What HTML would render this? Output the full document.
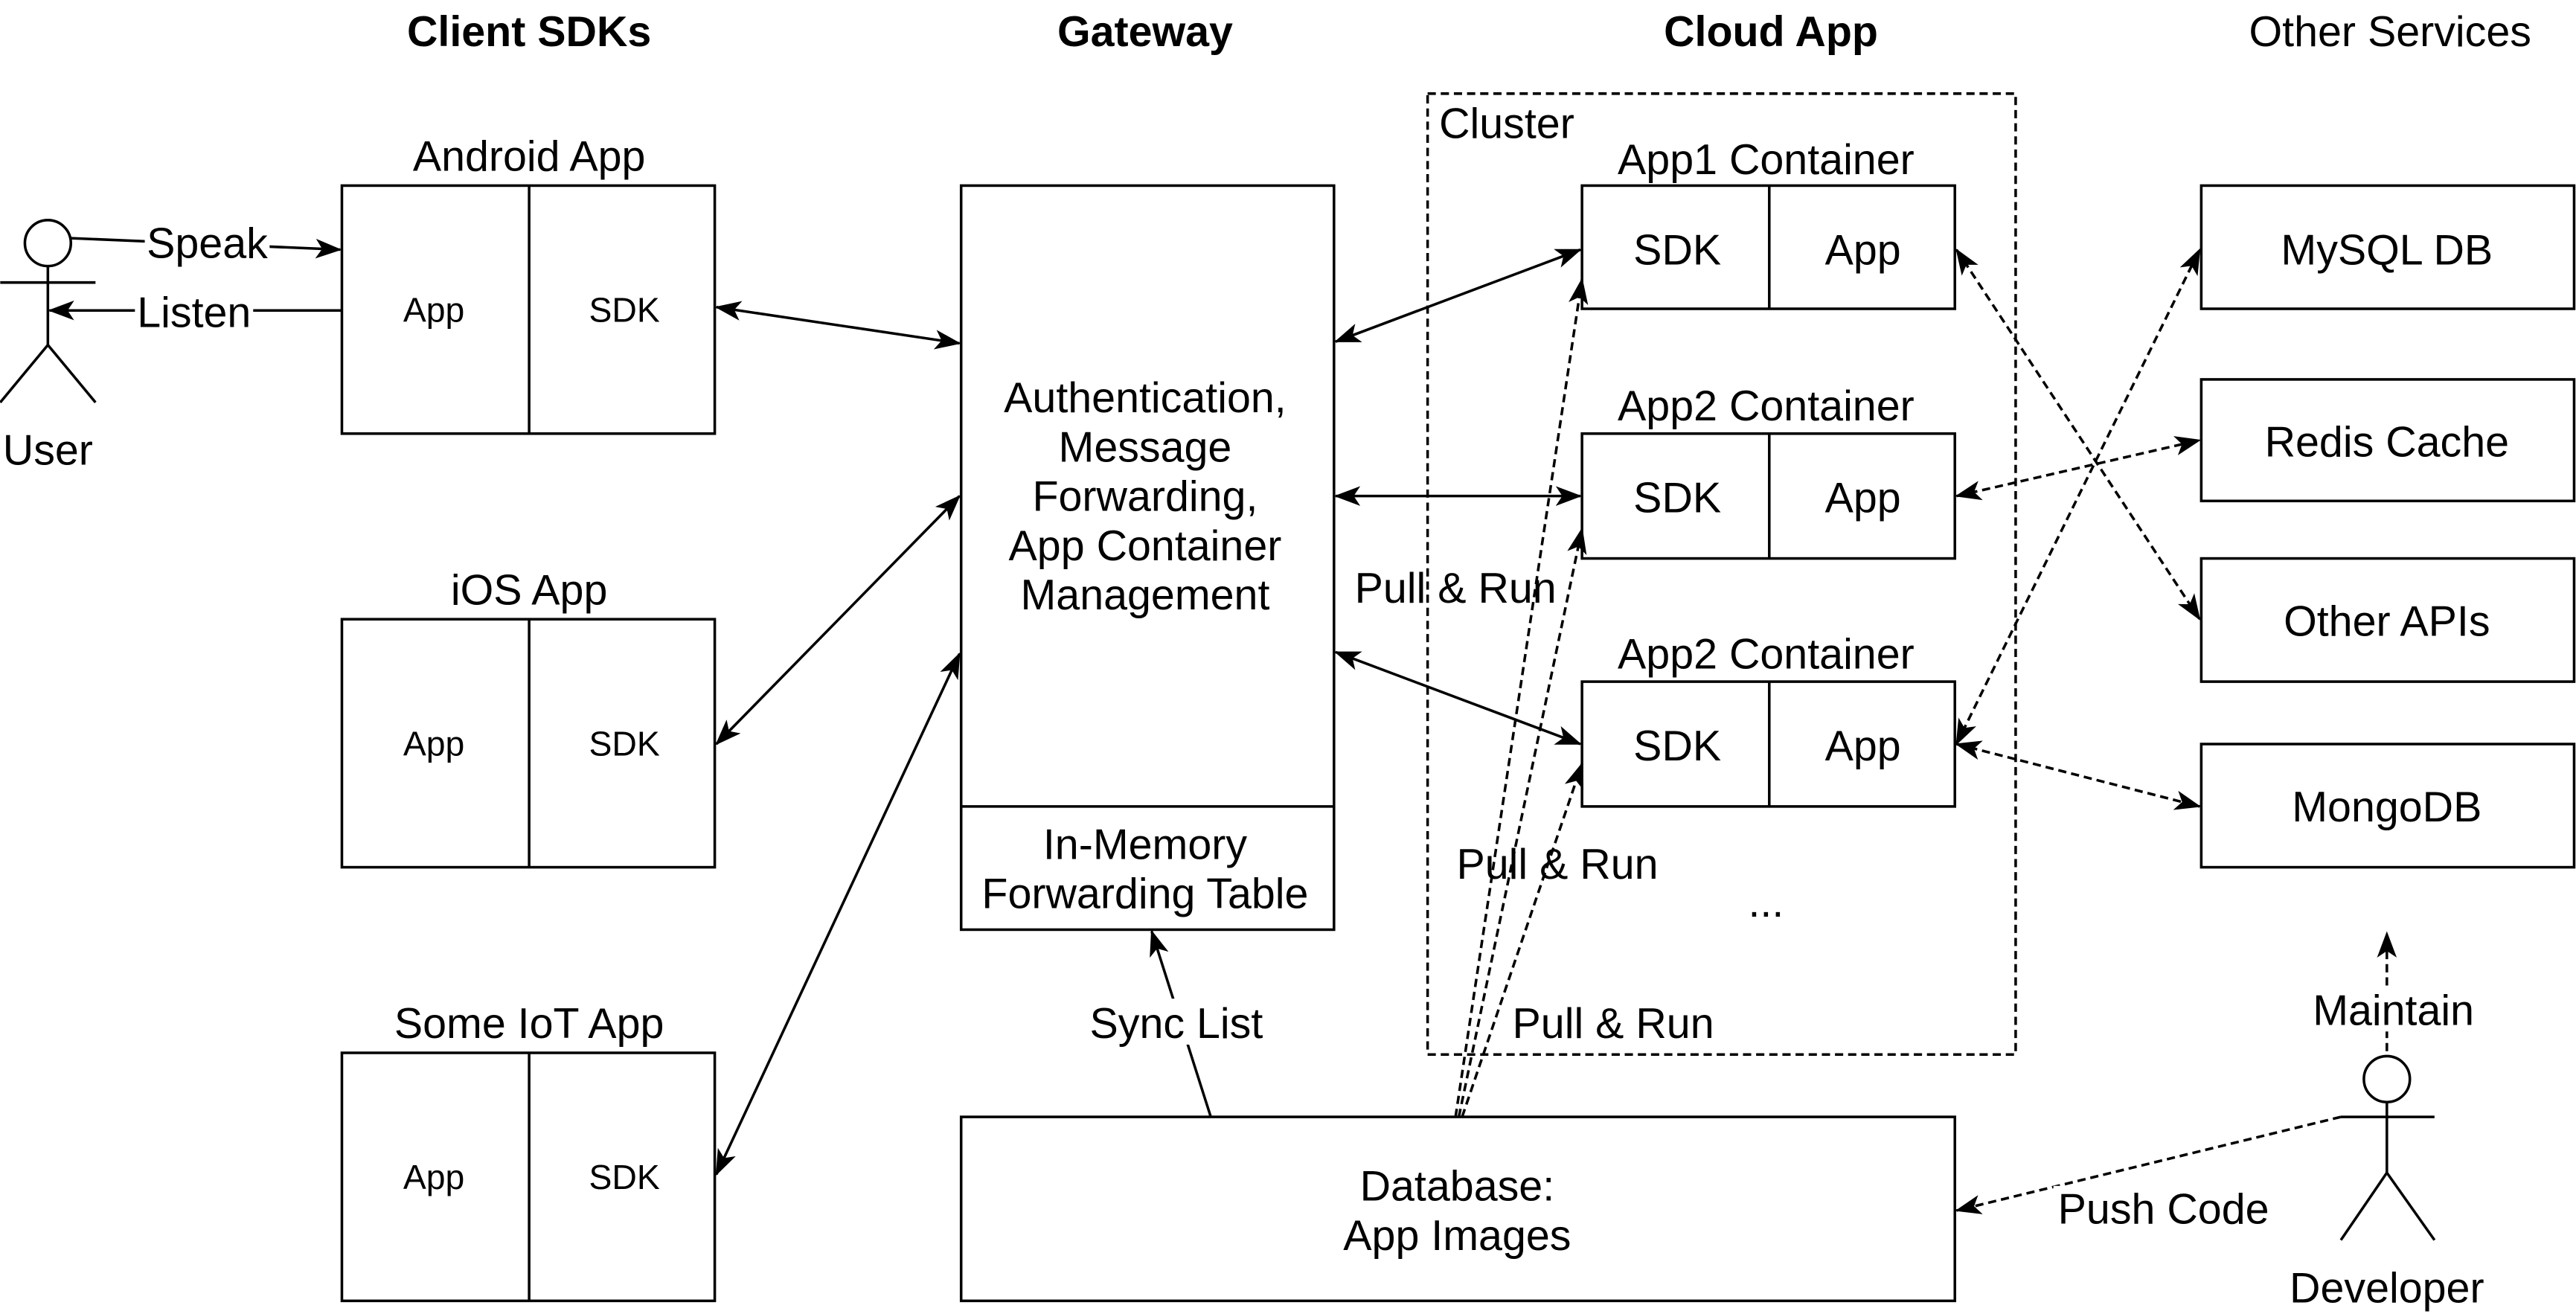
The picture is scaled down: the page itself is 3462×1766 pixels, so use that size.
<!DOCTYPE html>
<html><head><meta charset="utf-8"><style>
html,body{margin:0;padding:0;background:#fff;}
svg{display:block;}
text{font-family:"Liberation Sans",sans-serif;fill:#000;}
</style></head><body>
<svg width="3462" height="1766" viewBox="0 0 1568 800" xmlns="http://www.w3.org/2000/svg">
<defs>
<marker id="a" viewBox="0 0 16 12" refX="15" refY="6" markerWidth="16" markerHeight="12" markerUnits="userSpaceOnUse" orient="auto-start-reverse">
<path d="M0,0 L16,6 L0,12 L4,6 Z" fill="#000"/>
</marker>
</defs>
<rect width="1568" height="800" fill="#fff"/>
<g font-size="26" text-anchor="middle">
<text x="322" y="28" font-weight="bold">Client SDKs</text>
<text x="697" y="28" font-weight="bold">Gateway</text>
<text x="1078" y="28" font-weight="bold">Cloud App</text>
<text x="1455" y="28">Other Services</text>
</g>
<g stroke="#000" stroke-width="1.6" fill="none">
<circle cx="29" cy="148" r="14"/>
<line x1="29" y1="162" x2="29" y2="210"/>
<line x1="0" y1="172" x2="58" y2="172"/>
<line x1="29" y1="210" x2="0" y2="245"/><line x1="29" y1="210" x2="58" y2="245"/>
<circle cx="1453" cy="657" r="14"/>
<line x1="1453" y1="671" x2="1453" y2="714"/>
<line x1="1425" y1="680" x2="1482" y2="680"/>
<line x1="1453" y1="714" x2="1425" y2="755"/><line x1="1453" y1="714" x2="1482" y2="755"/>
<rect x="208" y="113" width="227" height="151"/><line x1="322" y1="113" x2="322" y2="264"/>
<rect x="208" y="377" width="227" height="151"/><line x1="322" y1="377" x2="322" y2="528"/>
<rect x="208" y="641" width="227" height="151"/><line x1="322" y1="641" x2="322" y2="792"/>
<rect x="585" y="113" width="227" height="453"/><line x1="585" y1="491" x2="812" y2="491"/>
<rect x="869" y="57" width="358" height="585" stroke-dasharray="5,3"/>
<rect x="963" y="113" width="227" height="75"/><line x1="1077" y1="113" x2="1077" y2="188"/>
<rect x="963" y="264" width="227" height="76"/><line x1="1077" y1="264" x2="1077" y2="340"/>
<rect x="963" y="415" width="227" height="76"/><line x1="1077" y1="415" x2="1077" y2="491"/>
<rect x="1340" y="113" width="227" height="75"/>
<rect x="1340" y="231" width="227" height="74"/>
<rect x="1340" y="340" width="227" height="75"/>
<rect x="1340" y="453" width="227" height="75"/>
<rect x="585" y="680" width="605" height="112"/>
<line x1="43" y1="145" x2="207" y2="152" marker-end="url(#a)"/>
<line x1="208" y1="189" x2="30" y2="189" marker-end="url(#a)"/>
<line x1="436" y1="187" x2="584" y2="209" marker-start="url(#a)" marker-end="url(#a)"/>
<line x1="436" y1="453" x2="584" y2="302" marker-start="url(#a)" marker-end="url(#a)"/>
<line x1="436" y1="715" x2="584" y2="398" marker-start="url(#a)" marker-end="url(#a)"/>
<line x1="813" y1="208" x2="962" y2="152" marker-start="url(#a)" marker-end="url(#a)"/>
<line x1="813" y1="302" x2="962" y2="302" marker-start="url(#a)" marker-end="url(#a)"/>
<line x1="813" y1="397" x2="962" y2="453" marker-start="url(#a)" marker-end="url(#a)"/>
<line x1="737" y1="680" x2="701" y2="567" marker-end="url(#a)"/>
</g>
<g stroke="#000" stroke-width="1.6" fill="none" stroke-dasharray="5,3">
<line x1="886" y1="680" x2="963" y2="170" marker-end="url(#a)"/>
<line x1="888" y1="680" x2="963" y2="322" marker-end="url(#a)"/>
<line x1="890" y1="680" x2="963" y2="465" marker-end="url(#a)"/>
<line x1="1191" y1="152" x2="1339" y2="377" marker-start="url(#a)" marker-end="url(#a)"/>
<line x1="1191" y1="302" x2="1339" y2="268" marker-start="url(#a)" marker-end="url(#a)"/>
<line x1="1191" y1="453" x2="1339" y2="152" marker-start="url(#a)" marker-end="url(#a)"/>
<line x1="1191" y1="453" x2="1339" y2="491" marker-start="url(#a)" marker-end="url(#a)"/>
<line x1="1453" y1="640" x2="1453" y2="568" marker-end="url(#a)"/>
<line x1="1425" y1="680" x2="1191" y2="737" marker-end="url(#a)"/>
</g>
<g fill="#fff">
<rect x="88" y="134" width="76" height="26"/>
<rect x="82" y="177" width="72" height="26"/>
<rect x="660" y="608" width="112" height="28"/>
<rect x="1405" y="600" width="104" height="28"/>
<rect x="1250" y="722" width="134" height="28"/>
</g>
<g font-size="26" text-anchor="middle">
<text x="126" y="157">Speak</text>
<text x="118" y="199">Listen</text>
<text x="29" y="283">User</text>
<text x="1453" y="793">Developer</text>
<text x="322" y="104">Android App</text>
<text x="322" y="368">iOS App</text>
<text x="322" y="632">Some IoT App</text>
<text x="697" y="251">Authentication,</text>
<text x="697" y="281">Message</text>
<text x="697" y="311">Forwarding,</text>
<text x="697" y="341">App Container</text>
<text x="697" y="371">Management</text>
<text x="697" y="523">In-Memory</text>
<text x="697" y="553">Forwarding Table</text>
<text x="716" y="632">Sync List</text>
<text x="887" y="731">Database:</text>
<text x="887" y="761">App Images</text>
<text x="1075" y="106">App1 Container</text>
<text x="1075" y="256">App2 Container</text>
<text x="1075" y="407">App2 Container</text>
<text x="1021" y="161">SDK</text><text x="1134" y="161">App</text>
<text x="1021" y="312">SDK</text><text x="1134" y="312">App</text>
<text x="1021" y="463">SDK</text><text x="1134" y="463">App</text>
<text x="886" y="367">Pull &amp; Run</text>
<text x="948" y="535">Pull &amp; Run</text>
<text x="982" y="632">Pull &amp; Run</text>
<text x="1075" y="558">...</text>
<text x="1453" y="161">MySQL DB</text>
<text x="1453" y="278">Redis Cache</text>
<text x="1453" y="387">Other APIs</text>
<text x="1453" y="500">MongoDB</text>
<text x="1457" y="624">Maintain</text>
<text x="1317" y="745">Push Code</text>
<text x="876" y="84" text-anchor="start">Cluster</text>
</g>
<g font-size="21" text-anchor="middle">
<text x="264" y="196">App</text><text x="380" y="196">SDK</text>
<text x="264" y="460">App</text><text x="380" y="460">SDK</text>
<text x="264" y="724">App</text><text x="380" y="724">SDK</text>
</g>
</svg>
</body></html>
